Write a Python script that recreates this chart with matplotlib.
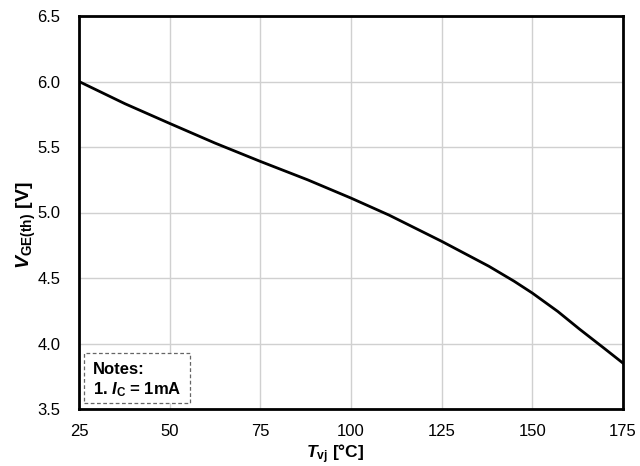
import matplotlib
matplotlib.use("Agg")
import matplotlib.pyplot as plt
from matplotlib.patches import Rectangle

plt.rcParams['font.family'] = ['Liberation Sans', 'DejaVu Sans']
plt.rcParams['mathtext.fontset'] = 'custom'
plt.rcParams['mathtext.rm'] = 'Liberation Sans:bold'
plt.rcParams['mathtext.it'] = 'Liberation Sans:bold:italic'
plt.rcParams['mathtext.bf'] = 'Liberation Sans:bold'

tvj = [25, 37.7, 50, 62.5, 75, 88, 100, 110.5, 125, 138, 145, 150, 157, 163, 169.5, 175]
vge = [6.00, 5.83, 5.68, 5.53, 5.39, 5.25, 5.11, 4.98, 4.78, 4.59, 4.475, 4.385, 4.245, 4.11, 3.97, 3.85]
xticks = [25, 50, 75, 100, 125, 150, 175]
yticks = [3.5, 4.0, 4.5, 5.0, 5.5, 6.0, 6.5]

fig = plt.figure(figsize=(6.4, 4.66), dpi=100)
ax = fig.add_axes([79/640, 1-409/466, 544/640, 393/466])
ax.plot(tvj, vge, color='black', lw=2.0, zorder=3, solid_joinstyle='round')
ax.set_xlim(25, 175)
ax.set_ylim(3.5, 6.5)
ax.set_xticks(xticks)
ax.set_yticks(yticks)
ax.set_yticklabels([f"{v:.1f}" for v in yticks])
ax.grid(True, color='#d0d0d0', lw=1.0)
ax.set_axisbelow(True)
ax.tick_params(axis='x', length=0, labelsize=12, pad=11)
ax.tick_params(axis='y', length=0, labelsize=12, pad=13.5)
for s in ax.spines.values():
    s.set_linewidth(2.0)
    s.set_color('black')
ax.set_xlabel(r"$T_{\mathrm{vj}}$ [°C]", fontsize=12.5, fontweight='bold')
ax.set_ylabel(r"$V_{\mathrm{GE(th)}}$ [V]", fontsize=14, fontweight='bold')
ax.xaxis.set_label_coords((335-79)/544, -(442-409)/393)
ax.yaxis.set_label_coords((38-79)/544, (409-225)/393)

rect = Rectangle((5/544, 6/393), 106/544, 50/393, transform=ax.transAxes,
                 fill=True, facecolor='white', edgecolor='#666666', lw=0.9,
                 linestyle=(0, (3, 2)), zorder=4)
ax.add_patch(rect)
ax.text(14/544, (409-370)/393, "Notes:", transform=ax.transAxes, fontsize=12,
        fontweight='bold', va='center', ha='left', zorder=5)
ax.text(14/544, (409-390)/393, r"1. $I_{\mathrm{C}}$ = 1mA", transform=ax.transAxes,
        fontsize=12, fontweight='bold', va='center', ha='left', zorder=5)

fig.savefig("out.png", dpi=100)
